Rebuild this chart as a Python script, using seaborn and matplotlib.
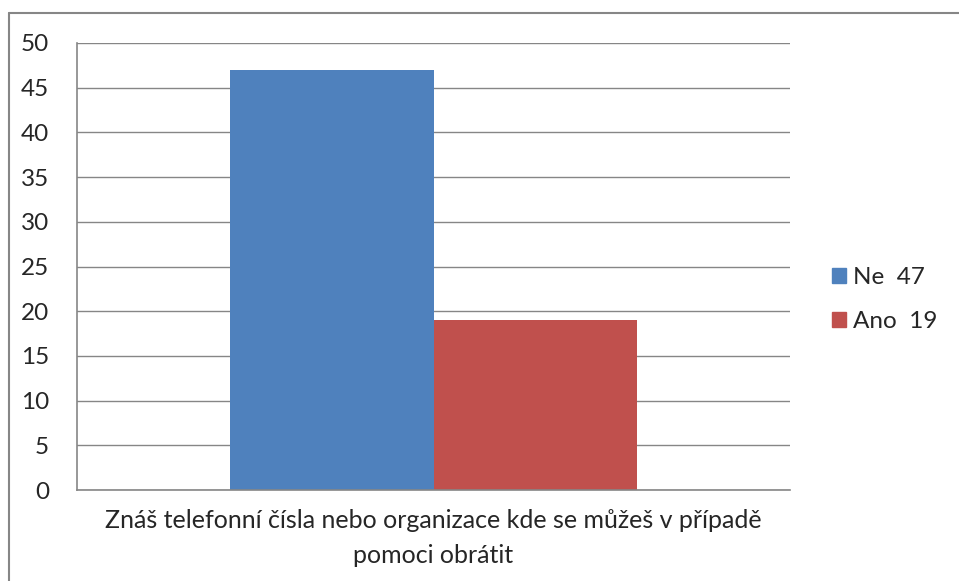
import matplotlib
matplotlib.use("Agg")
import matplotlib.pyplot as plt
import pandas as pd
import seaborn as sns

categories = ["Znáš telefonní čísla nebo organizace kde se můžeš v případě\npomoci obrátit"]
answers = ["Ne", "Ano"]
counts = [47, 19]
legend_labels = ["Ne  47", "Ano  19"]
colors = ["#4F81BD", "#C0504D"]
yticks = list(range(0, 51, 5))

sns.set_style("white")
plt.rcParams["font.family"] = ["Lato", "DejaVu Sans"]

df = pd.DataFrame({
    "category": categories * len(answers),
    "answer": answers,
    "count": counts,
})

fig = plt.figure(figsize=(9.59, 5.81), dpi=100)
ax = fig.add_axes([0.0803, 0.1566, 0.7435, 0.7694])

sns.barplot(data=df, x="category", y="count", hue="answer",
            palette=colors, width=0.572, saturation=1, linewidth=0,
            ax=ax, legend=False)

grid_c = "#868686"
ax.set_xlim(-0.5, 0.5)
ax.set_ylim(0, 50)
ax.set_yticks(yticks)
ax.yaxis.grid(True, color=grid_c, linewidth=1)
ax.set_axisbelow(True)
for side in ["top", "right"]:
    ax.spines[side].set_visible(False)
ax.spines["left"].set_color(grid_c)
ax.spines["bottom"].set_color(grid_c)
ax.spines["left"].set_linewidth(1.2)
ax.spines["bottom"].set_linewidth(1.2)
ax.tick_params(axis="y", length=7, color=grid_c, width=1.2, labelsize=17.5, pad=13)
ax.set_xticks([-0.5, 0.5], minor=True)
ax.tick_params(axis="x", which="minor", length=7, color=grid_c, width=1.2)
ax.tick_params(axis="x", which="major", length=0, labelsize=18, pad=14)
for lbl in ax.get_xticklabels():
    lbl.set_linespacing(1.6)
ax.set_xlabel("")
ax.set_ylabel("")

handles = [plt.Rectangle((0, 0), 1, 1, color=c) for c in colors]
fig.legend(handles, legend_labels, loc="center left", bbox_to_anchor=(0.868, 0.484),
           frameon=False, fontsize=17.5, handlelength=0.55, handleheight=0.55,
           handletextpad=0.3, labelspacing=0.95, borderpad=0, borderaxespad=0)

# outer frame, only top and left edges visible
fig.add_artist(plt.Line2D([0.0094, 1.0], [0.9776, 0.9776], color=grid_c, lw=1.5,
                          transform=fig.transFigure))
fig.add_artist(plt.Line2D([0.0094, 0.0094], [0.0, 0.9776], color=grid_c, lw=1.5,
                          transform=fig.transFigure))

fig.savefig("out.png", dpi=100)
